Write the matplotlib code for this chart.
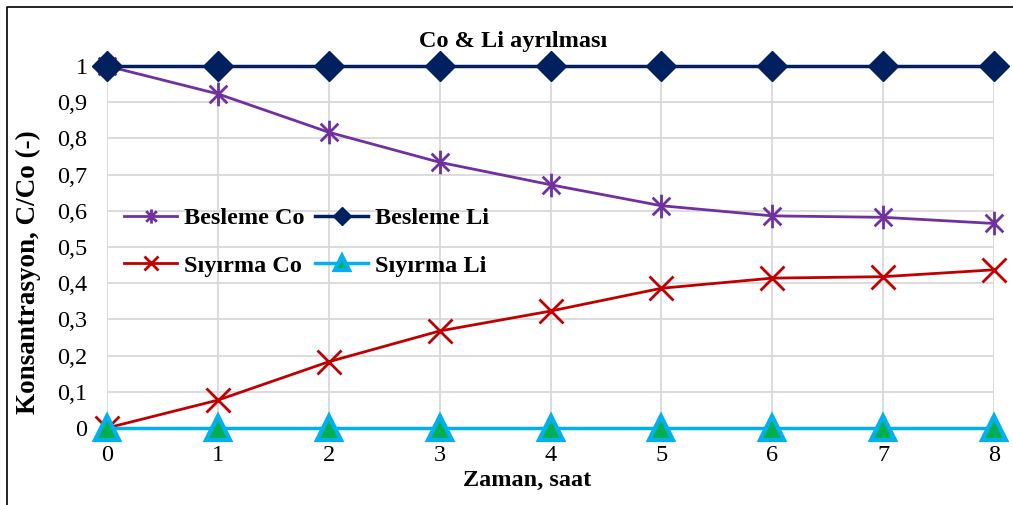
import matplotlib
matplotlib.use('Agg')
import matplotlib.pyplot as plt
from matplotlib.path import Path
from matplotlib.lines import Line2D

plt.rcParams['font.family'] = ['Liberation Serif', 'DejaVu Serif']

# ---- data ----
zaman = [0, 1, 2, 3, 4, 5, 6, 7, 8]
besleme_co = [1.0, 0.923, 0.817, 0.734, 0.672, 0.614, 0.586, 0.582, 0.565]
besleme_li = [1, 1, 1, 1, 1, 1, 1, 1, 1]
siyirma_co = [0.0, 0.077, 0.183, 0.268, 0.323, 0.386, 0.414, 0.418, 0.437]
siyirma_li = [0, 0, 0, 0, 0, 0, 0, 0, 0]
yticks = [0, 0.1, 0.2, 0.3, 0.4, 0.5, 0.6, 0.7, 0.8, 0.9, 1.0]
ylabels = ['0', '0,1', '0,2', '0,3', '0,4', '0,5', '0,6', '0,7', '0,8', '0,9', '1']

# Excel-style star: X plus vertical bar
star = Path([(0, -1), (0, 1), (-0.75, -0.75), (0.75, 0.75), (-0.75, 0.75), (0.75, -0.75)],
            [Path.MOVETO, Path.LINETO, Path.MOVETO, Path.LINETO, Path.MOVETO, Path.LINETO])

fig = plt.figure(figsize=(10.13, 5.05), dpi=100)
ax = fig.add_axes([107/1013, 1 - 428/505, 887/1013, 362/505])

ax.plot(zaman, besleme_co, color='#7030A0', lw=2.0, marker=star, ms=17, mew=2.0,
        clip_on=False, zorder=3, label='Besleme Co')
ax.plot(zaman, siyirma_co, color='#C00000', lw=2.0, marker='x', ms=17, mew=2.0,
        clip_on=False, zorder=3, label='Sıyırma Co')
ax.plot(zaman, besleme_li, color='#002060', lw=2.5, marker='D', ms=15,
        mfc='#002060', mec='#002060', clip_on=False, zorder=4, label='Besleme Li')
ax.plot(zaman, siyirma_li, color='#00B0F0', lw=2.5, marker='^', ms=17, mfc='#00B050',
        mec='#00B0F0', mew=3, clip_on=False, zorder=4, label='Sıyırma Li')

ax.set_xlim(0, 8)
ax.set_ylim(0, 1)
ax.set_xticks(zaman)
ax.set_yticks(yticks)
ax.set_yticklabels(ylabels)
ax.tick_params(length=0, labelsize=17.5)
ax.tick_params(axis='y', pad=14)
ax.tick_params(axis='x', pad=12)
ax.grid(True, color='#D9D9D9', lw=1.3)
ax.set_axisbelow(True)
for s in ax.spines.values():
    s.set_visible(False)

h, l = ax.get_legend_handles_labels()
ax.legend(h, l, ncol=2, frameon=False, loc='center left',
          bbox_to_anchor=(124/1013, 1 - 242/505), bbox_transform=fig.transFigure,
          borderpad=0, borderaxespad=0, handlelength=2.2, handletextpad=0.25,
          columnspacing=0.45, labelspacing=1.05, markerscale=0.6,
          prop={'weight': 'bold', 'size': 17.5})

fig.text(513/1013, 1 - 42/505, 'Co & Li ayrılması', ha='center', va='center',
         fontsize=17.5, fontweight='bold')
fig.text(527/1013, 1 - 480/505, 'Zaman, saat', ha='center', va='center',
         fontsize=17.5, fontweight='bold')
fig.text(28/1013, 1 - 272/505, 'Konsantrasyon, C/Co (-)', ha='center', va='center',
         rotation=90, fontsize=19.5, fontweight='bold')

# chart border (left and top visible)
fig.add_artist(Line2D([7/1013, 7/1013, 1.01], [-0.01, 1 - 7/505, 1 - 7/505],
                      transform=fig.transFigure, color='black', lw=1.2))

fig.savefig('out.png', dpi=100)
